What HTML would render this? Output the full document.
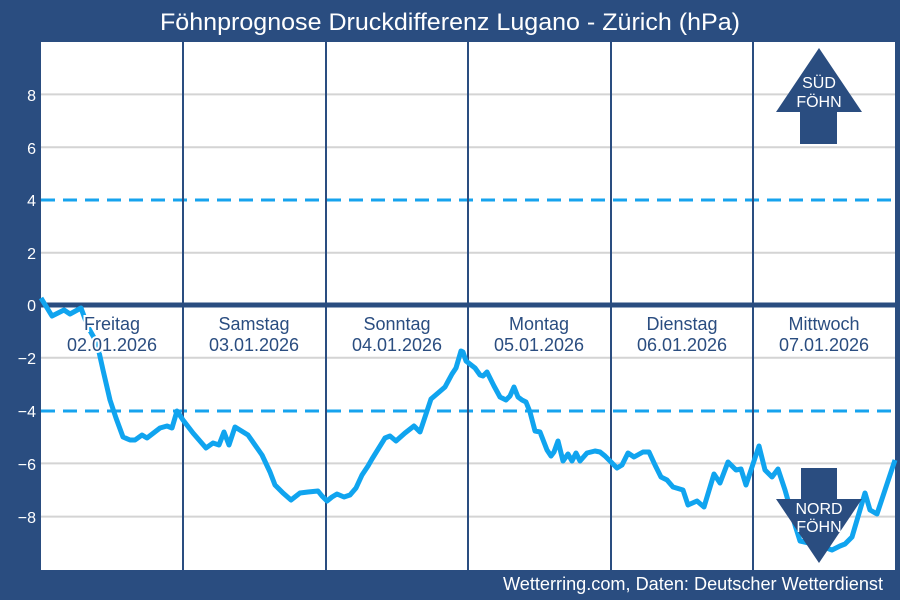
<!DOCTYPE html>
<html><head><meta charset="utf-8"><style>
body{margin:0;background:#2a4d80;}
svg{display:block;font-family:"Liberation Sans",sans-serif;}
</style></head><body>
<svg width="900" height="600" viewBox="0 0 900 600">
<rect width="900" height="600" fill="#2a4d80"/>
<rect x="41" y="42" width="854" height="528" fill="#fff"/>
<g stroke="#d4d4d4" stroke-width="2">
<line x1="41" x2="895" y1="94.4" y2="94.4"/><line x1="41" x2="895" y1="147.2" y2="147.2"/>
<line x1="41" x2="895" y1="252.8" y2="252.8"/><line x1="41" x2="895" y1="357.8" y2="357.8"/>
<line x1="41" x2="895" y1="463.4" y2="463.4"/><line x1="41" x2="895" y1="516.6" y2="516.6"/>
</g>
<g stroke="#16a3ee" stroke-width="3" stroke-dasharray="14 8">
<line x1="41" x2="895" y1="200" y2="200"/><line x1="41" x2="895" y1="411" y2="411"/>
</g>
<g stroke="#2a4d80" stroke-width="2">
<line x1="183" x2="183" y1="42" y2="570"/><line x1="326" x2="326" y1="42" y2="570"/>
<line x1="468" x2="468" y1="42" y2="570"/><line x1="611" x2="611" y1="42" y2="570"/>
<line x1="753" x2="753" y1="42" y2="570"/>
</g>
<line x1="41" x2="895" y1="305" y2="305" stroke="#2a4d80" stroke-width="5"/>
<polyline fill="none" stroke="#10a4ef" stroke-width="5" stroke-linejoin="round" points="41,298 52,316 64,310 70,314 81,308 88,327 97,343 103,370 110,400 116,418 123,437 130,440 135,440 142,435 147,438 160,428 167,426 172,428 177,411 183,420 193,433 206,448 213,443 219,445 224,432 229,445 235,427 248,435 262,455 270,472 275,485 283,493 291,500 300,493 308,492 318,491 322,496 327,501 332,497 337,494 344,497 350,495 356,488 362,475 368,466 372,459 385,438 390,436 396,441 405,433 414,426 420,432 431,399 445,387 452,374 456,368 461,351 463,352 466,361 475,368 480,375 483,376 487,372 494,386 500,397 506,400 510,396 514,387 518,397 522,400 526,402 530,412 535,431 540,432 547,450 551,456 554,452 558,441 563,461 568,454 572,461 576,453 580,461 587,453 595,451 600,452 605,456 611,462 617,468 622,465 628,453 634,457 643,452 649,452 655,465 661,477 667,480 673,487 683,490 688,505 697,501 704,507 714,474 720,483 728,462 736,470 741,469 746,485 753,464 759,446 765,470 772,477 778,469 785,490 795,525 800,541 818,545 832,550 840,546 845,544 852,537 865,493 870,510 877,514 895,460"/>
<g fill="#2a4d80" font-size="18" text-anchor="middle" stroke="#fff" stroke-width="4" paint-order="stroke">
<text x="112" y="330">Freitag</text><text x="112" y="351">02.01.2026</text>
<text x="254" y="330">Samstag</text><text x="254" y="351">03.01.2026</text>
<text x="397" y="330">Sonntag</text><text x="397" y="351">04.01.2026</text>
<text x="539" y="330">Montag</text><text x="539" y="351">05.01.2026</text>
<text x="682" y="330">Dienstag</text><text x="682" y="351">06.01.2026</text>
<text x="824" y="330">Mittwoch</text><text x="824" y="351">07.01.2026</text>
</g>
<polygon fill="#2a4d80" points="819,48 862,112 837,112 837,144 800,144 800,112 776,112"/>
<polygon fill="#2a4d80" points="801,468 837,468 837,499 862,499 819,563 776,499 801,499"/>
<g fill="#fff" font-size="16" text-anchor="middle">
<text x="819" y="88">SÜD</text><text x="819" y="107">FÖHN</text>
<text x="819" y="514">NORD</text><text x="819" y="532">FÖHN</text>
</g>
<g fill="#fff" font-size="16" text-anchor="end">
<text x="36" y="101">8</text><text x="36" y="154">6</text><text x="36" y="206">4</text>
<text x="36" y="259">2</text><text x="36" y="311">0</text><text x="36" y="364">−2</text>
<text x="36" y="417">−4</text><text x="36" y="470">−6</text><text x="36" y="523">−8</text>
</g>
<text x="450" y="30" fill="#fff" font-size="24" text-anchor="middle" textLength="580" lengthAdjust="spacingAndGlyphs">Föhnprognose Druckdifferenz Lugano - Zürich (hPa)</text>
<text x="883" y="590" fill="#fff" font-size="18" text-anchor="end" textLength="380" lengthAdjust="spacingAndGlyphs">Wetterring.com, Daten: Deutscher Wetterdienst</text>
</svg>
</body></html>
